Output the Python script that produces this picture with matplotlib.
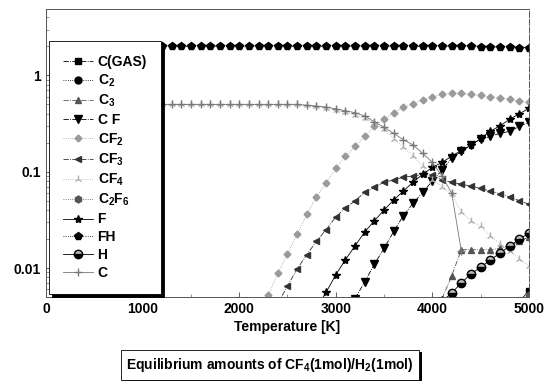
import matplotlib
matplotlib.use('Agg')
import matplotlib.pyplot as plt
import matplotlib.patheffects as pe
from matplotlib.ticker import FixedLocator, NullFormatter

plt.rcParams['font.family'] = ['Liberation Sans', 'DejaVu Sans']
plt.rcParams['font.weight'] = 'bold'
plt.rcParams['mathtext.fontset'] = 'custom'
plt.rcParams['mathtext.rm'] = 'Liberation Sans:bold'
plt.rcParams['mathtext.bf'] = 'Liberation Sans:bold'
plt.rcParams['mathtext.default'] = 'bf'

# ---- data (mol vs temperature K) ----
t_fh = [1200, 1300, 1400, 1500, 1600, 1700, 1800, 1900, 2000, 2100, 2200, 2300, 2400,
        2500, 2600, 2700, 2800, 2900, 3000, 3100, 3200, 3300, 3400, 3500, 3600, 3700,
        3800, 3900, 4000, 4100, 4200, 4300, 4400, 4500, 4600, 4700, 4800, 4900, 5000]
fh = [2.0, 2.0, 2.0, 2.0, 2.0, 2.0, 2.0, 2.0, 2.0, 2.0, 2.0, 2.0, 2.0,
      2.0, 2.0, 2.0, 2.0, 2.0, 2.0, 2.0, 2.0, 2.0, 2.0, 2.0, 2.0, 2.0,
      2.0, 2.0, 2.0, 2.0, 2.0, 2.0, 2.0, 1.99, 1.98, 1.97, 1.96, 1.95, 1.94]

t_cf4 = [1200, 1300, 1400, 1500, 1600, 1700, 1800, 1900, 2000, 2100, 2200, 2300, 2400,
         2500, 2600, 2700, 2800, 2900, 3000, 3100, 3200, 3300, 3400, 3500, 3600, 3700,
         3800, 3900, 4000, 4100, 4200, 4300, 4400, 4500, 4600, 4700, 4800, 4900, 5000]
cf4 = [0.5, 0.5, 0.5, 0.5, 0.5, 0.5, 0.5, 0.5, 0.5, 0.5, 0.5, 0.5, 0.5,
       0.5, 0.5, 0.49, 0.48, 0.46, 0.44, 0.42, 0.39, 0.36, 0.32, 0.276, 0.22, 0.18,
       0.145, 0.114, 0.083, 0.07, 0.059, 0.038, 0.031, 0.027, 0.0215, 0.0178, 0.015, 0.0124, 0.0105]

t_c = [1200, 1300, 1400, 1500, 1600, 1700, 1800, 1900, 2000, 2100, 2200, 2300, 2400,
       2500, 2600, 2700, 2800, 2900, 3000, 3100, 3200, 3300, 3400, 3500, 3600, 3700,
       3800, 3900, 4000, 4100, 4200, 4300]
c_solid = [0.5, 0.5, 0.5, 0.5, 0.5, 0.5, 0.5, 0.5, 0.5, 0.5, 0.5, 0.5, 0.5,
           0.5, 0.5, 0.49, 0.48, 0.47, 0.45, 0.43, 0.41, 0.38, 0.33, 0.29, 0.25, 0.215,
           0.19, 0.155, 0.125, 0.09, 0.06, 0.015]

t_cf2 = [2200, 2300, 2400, 2500, 2600, 2700, 2800, 2900, 3000, 3100, 3200, 3300, 3400,
         3500, 3600, 3700, 3800, 3900, 4000, 4100, 4200, 4300, 4400, 4500, 4600, 4700,
         4800, 4900, 5000]
cf2 = [0.0032, 0.0052, 0.0088, 0.014, 0.0225, 0.036, 0.055, 0.076, 0.109, 0.145, 0.183,
       0.233, 0.296, 0.35, 0.41, 0.466, 0.51, 0.56, 0.60, 0.635, 0.65, 0.65, 0.635, 0.62,
       0.60, 0.59, 0.565, 0.54, 0.525]

t_cf3 = [2400, 2500, 2600, 2700, 2800, 2900, 3000, 3100, 3200, 3300, 3400, 3500, 3600,
         3700, 3800, 3900, 4000, 4100, 4200, 4300, 4400, 4500, 4600, 4700, 4800, 4900, 5000]
cf3 = [0.0043, 0.0065, 0.0098, 0.0137, 0.019, 0.025, 0.034, 0.042, 0.05, 0.061, 0.069,
       0.078, 0.082, 0.088, 0.09, 0.094, 0.092, 0.082, 0.078, 0.074, 0.071, 0.067, 0.063,
       0.059, 0.055, 0.05, 0.046]

t_f = [2800, 2900, 3000, 3100, 3200, 3300, 3400, 3500, 3600, 3700, 3800, 3900, 4000,
       4100, 4200, 4300, 4400, 4500, 4600, 4700, 4800, 4900, 5000]
f = [0.0038, 0.0056, 0.0085, 0.0122, 0.017, 0.0237, 0.031, 0.04, 0.051, 0.063, 0.078,
     0.094, 0.111, 0.125, 0.145, 0.167, 0.188, 0.222, 0.263, 0.30, 0.35, 0.40, 0.455]

t_cf = [3200, 3300, 3400, 3500, 3600, 3700, 3800, 3900, 4000, 4100, 4200, 4300, 4400,
        4500, 4600, 4700, 4800, 4900, 5000]
cf = [0.0048, 0.0072, 0.011, 0.016, 0.024, 0.035, 0.047, 0.061, 0.08, 0.104, 0.138,
      0.163, 0.188, 0.217, 0.233, 0.25, 0.263, 0.296, 0.326]

t_c3 = [4100, 4200, 4300, 4400, 4500, 4600, 4700, 4800, 4900, 5000]
c3 = [0.0048, 0.0083, 0.0155, 0.0155, 0.0155, 0.0155, 0.016, 0.017, 0.019, 0.021]

t_h = [4100, 4200, 4300, 4400, 4500, 4600, 4700, 4800, 4900, 5000]
h = [0.0045, 0.0055, 0.0070, 0.0087, 0.0102, 0.0121, 0.0143, 0.0169, 0.020, 0.023]

t_c2f6 = [4800, 4900, 5000]
c2f6 = [0.0035, 0.0042, 0.0052]

t_cgas = [4800, 4900, 5000]
cgas = [0.0036, 0.0045, 0.0058]

t_c2 = [4800, 4900, 5000]
c2 = [0.0018, 0.0025, 0.0035]

fig = plt.figure(figsize=(5.51, 3.85), dpi=100)
ax = fig.add_axes([0.0835, 0.2286, 0.8765, 0.748])

kw = dict(lw=0.6, ms=5)
ax.plot(t_cgas, cgas, color='k', ls='-.', marker='s', label='C(GAS)', **kw)
ax.plot(t_c2, c2, color='k', ls=':', marker='o', label='C$_2$', **kw)
ax.plot(t_c3, c3, color='#555555', ls='-.', marker='^', label='C$_3$', **kw)
ax.plot(t_cf, cf, color='k', ls='-.', marker='v', label='C F', lw=0.6, ms=6)
ax.plot(t_cf2, cf2, color='#9a9a9a', ls=':', marker='D', label='CF$_2$', lw=0.6, ms=3.5)
ax.plot(t_cf3, cf3, color='#333333', ls='-.', marker='<', label='CF$_3$', **kw)
ax.plot(t_cf4, cf4, color='#b0b0b0', ls=':', marker='2', label='CF$_4$', lw=0.6, ms=6)
ax.plot(t_c2f6, c2f6, color='#555555', ls=':', marker='h', label='C$_2$F$_6$', **kw)
ax.plot(t_f, f, color='k', ls='-', marker='*', label='F', lw=0.6, ms=6)
ax.plot(t_fh, fh, color='k', ls=':', marker='p', label='FH', lw=0.6, ms=5.5)
ax.plot(t_h, h, color='k', ls='-', marker='o', label='H', lw=0.6, ms=6,
        fillstyle='bottom', markerfacecoloralt='#bbbbbb')
ax.plot(t_c, c_solid, color='#777777', ls='-', marker='+', label='C', lw=0.6, ms=6)

ax.set_yscale('log')
ax.set_xlim(0, 5000)
ax.set_ylim(0.005, 4.9)
ax.set_xticks([0, 1000, 2000, 3000, 4000, 5000])
ax.set_xticklabels(['0', '1000', '2000', '3000', '4000', '5000'])
ax.xaxis.set_minor_locator(FixedLocator([500, 1500, 2500, 3500, 4500]))
ax.set_yticks([0.01, 0.1, 1])
ax.set_yticklabels(['0.01', '0.1', '1'])
ax.yaxis.set_minor_formatter(NullFormatter())
ax.tick_params(direction='in', labelsize=10, width=0.6, color='#444444')
ax.tick_params(which='minor', direction='in', length=2, width=0.5, color='#666666')
for s in ax.spines.values():
    s.set_linewidth(0.7)
    s.set_color('#555555')
ax.spines['right'].set_linestyle((0, (6, 2)))

ax.set_xlabel('Temperature [K]', fontsize=10, fontweight='bold', labelpad=3)

leg = ax.legend(loc='upper left', bbox_to_anchor=(0.006, 0.889), borderaxespad=0,
                fontsize=10, handlelength=2.2, handletextpad=0.3, labelspacing=0.28,
                frameon=True, fancybox=False, edgecolor='k', framealpha=1,
                borderpad=1.0, shadow={'color': 'k', 'alpha': 1})
leg.get_frame().set_linewidth(0.6)

txt = fig.text(0.49, 0.052, 'Equilibrium amounts of CF$_4$(1mol)/H$_2$(1mol)',
               fontsize=10, fontweight='bold', ha='center', va='center',
               bbox=dict(boxstyle='square,pad=0.4', fc='white', ec='k', lw=0.6))
txt.get_bbox_patch().set_path_effects([
    pe.SimplePatchShadow(offset=(2, -1), shadow_rgbFace='k', alpha=1), pe.Normal()])

fig.savefig('out.png', dpi=100)
